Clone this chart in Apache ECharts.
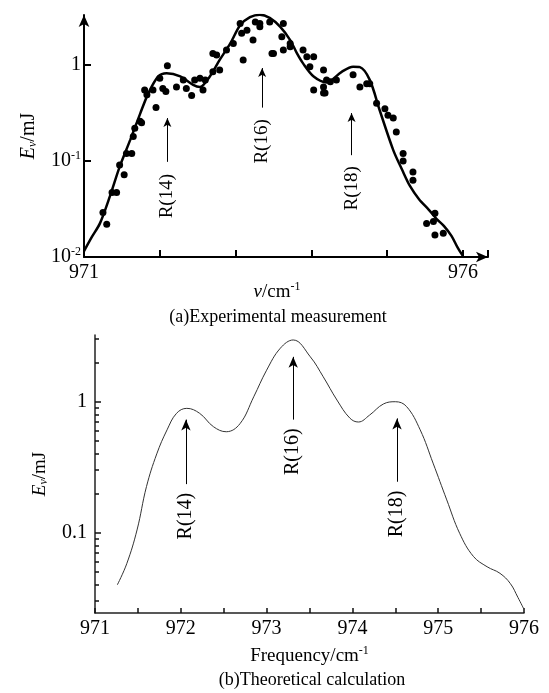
<!DOCTYPE html>
<html><head><meta charset="utf-8">
<script src="https://cdn.jsdelivr.net/npm/echarts@6/dist/echarts.min.js"></script>
<style>html,body{margin:0;padding:0;background:#fff}#c{width:549px;height:693px}</style>
</head><body><div id="c"></div>
<script>
// ---------- data ----------
// (a) experimental: fitted curve [frequency, energy mJ]
const expCurve = [
 [971.00,0.0115],[971.10,0.016],[971.21,0.0224],[971.34,0.0425],[971.47,0.087],[971.61,0.166],
 [971.74,0.31],[971.85,0.51],[971.98,0.76],[972.09,0.82],[972.27,0.76],[972.44,0.62],[972.53,0.59],
 [972.66,0.76],[972.79,1.13],[972.93,1.68],[973.06,2.6],[973.19,3.15],[973.32,3.35],[973.45,3.1],
 [973.59,2.5],[973.72,1.82],[973.81,1.32],[973.89,1.04],[974.03,0.76],[974.20,0.66],[974.40,0.85],
 [974.55,0.96],[974.64,0.95],[974.77,0.70],[974.90,0.34],[975.08,0.13],[975.20,0.08],[975.30,0.055],
 [975.42,0.04],[975.55,0.031],[975.65,0.025],[975.75,0.021],[975.85,0.0165],[975.93,0.0125],[976.00,0.0102]
];
// (a) experimental: measured points
const expPoints = [
 [971.25,0.029],[971.30,0.022],[971.37,0.047],[971.43,0.047],[971.47,0.091],[971.53,0.072],
 [971.56,0.12],[971.63,0.12],[971.65,0.18],[971.67,0.22],[971.74,0.26],[971.76,0.25],[971.80,0.55],
 [971.83,0.49],[971.91,0.55],[971.95,0.36],[972.00,0.73],[972.04,0.57],[972.10,0.98],[972.08,0.53],
 [972.22,0.59],[972.31,0.70],[972.35,0.57],[972.42,0.48],[972.46,0.70],[972.53,0.73],[972.57,0.55],
 [972.60,0.70],[972.70,0.85],[972.79,0.89],[972.75,1.27],[972.70,1.32],[972.88,1.43],[972.97,1.68],
 [973.06,2.7],[973.08,2.14],[973.10,1.13],[973.15,2.3],[973.23,1.82],[973.26,2.8],[973.32,2.5],
 [973.32,3.9],[973.32,2.7],[973.37,3.6],[973.45,2.8],[973.48,1.32],[973.50,1.32],[973.61,1.97],
 [973.63,2.7],[973.63,1.43],[973.72,1.55],[973.72,1.68],[973.89,1.43],[973.94,1.22],[973.98,0.96],
 [974.03,1.22],[974.03,0.55],[974.16,0.51],[974.16,0.89],[974.16,0.59],[974.18,0.51],[974.20,0.70],
 [974.25,0.67],[974.33,0.70],[974.55,0.79],[974.64,0.59],[974.73,0.64],[974.77,0.64],[974.86,0.40],
 [974.97,0.35],[975.01,0.30],[975.08,0.28],[975.12,0.20],[975.21,0.12],[975.21,0.10],[975.34,0.077],
 [975.34,0.063],[975.52,0.0224],[975.61,0.0234],[975.63,0.017],[975.74,0.0177],[975.63,0.0285]
];
// (b) theoretical curve
const theoCurve = [
 [971.26,0.040],[971.37,0.058],[971.49,0.105],[971.60,0.225],[971.72,0.40],[971.84,0.61],
 [971.95,0.815],[972.07,0.89],[972.22,0.815],[972.38,0.645],[972.53,0.59],[972.69,0.68],
 [972.85,1.09],[973.00,1.74],[973.16,2.56],[973.31,2.96],[973.51,2.2],[973.66,1.55],[973.82,1.03],
 [973.97,0.75],[974.07,0.70],[974.20,0.79],[974.36,0.96],[974.50,1.0],[974.63,0.92],[974.79,0.61],
 [974.94,0.34],[975.10,0.178],[975.25,0.099],[975.41,0.066],[975.57,0.055],[975.72,0.049],
 [975.84,0.041],[975.93,0.032],[976.00,0.026]
];
// annotations: [frequency, text position, label], arrows [frequency, tail, tip]
const expLabels = [[972.10,0.043,'R(14)'],[973.35,0.16,'R(16)'],[974.53,0.052,'R(18)']];
const expArrows = [[972.10,0.098,0.28],[973.35,0.36,0.93],[974.53,0.115,0.316]];
const theoLabels = [[972.06,0.134,'R(14)'],[973.31,0.415,'R(16)'],[974.52,0.139,'R(18)']];
const theoArrows = [[972.06,0.235,0.73],[973.31,0.73,2.2],[974.52,0.245,0.746]];
// ticks
const expXLabels = [971,976];
const expYLabels = [0.01,0.1,1];
const expYTicks = [0.1,1];
const theoXTicks = [971,971.5,972,972.5,973,973.5,974,974.5,975,975.5,976];
const theoXLabels = [971,972,973,974,975,976];
const theoYMajor = [0.1,1];
const theoYMinor = [0.03,0.04,0.05,0.06,0.07,0.08,0.09,0.2,0.3,0.4,0.5,0.6,0.7,0.8,0.9,2,3];

// ---------- chart ----------
const F = 'Liberation Serif, Times New Roman, serif';
const chart = echarts.init(document.getElementById('c'));
const arrowLines = (arr, sz) => ({
  silent: true, animation: false, symbol: ['none','arrow'], symbolSize: sz,
  lineStyle: {color: '#000', width: 1, type: 'solid'}, label: {show: false},
  data: arr.map(a => [{coord: [a[0], a[1]]}, {coord: [a[0], a[2]]}])
});
const textSeries = (arr, xi, yi, fs) => ({
  type: 'scatter', xAxisIndex: xi, yAxisIndex: yi, symbolSize: 1, silent: true,
  itemStyle: {opacity: 0},
  data: arr,
  label: {show: true, position: 'inside', rotate: 90, formatter: p => p.data[2],
    color: '#000', fontFamily: F, fontSize: fs, opacity: 1}
});
const supS = {fontFamily: F, fontSize: 12, fontWeight: 'normal', color: '#000', verticalAlign: 'top', lineHeight: 22, padding: [0,0,8,0]};
const supRich = {
  b: {fontFamily: F, fontSize: 20, fontWeight: 'normal', color: '#000', lineHeight: 22},
  s: supS
};
chart.setOption({
  animation: false,
  title: [
    {text: '{i|ν}{b|/cm}{s|-1}', left: 272, top: 276, textAlign: 'center',
      textStyle: {fontWeight: 'normal', rich: {
        i: {fontFamily: F, fontStyle: 'italic', fontWeight: 'normal', fontSize: 19, color: '#000', lineHeight: 22},
        b: {fontFamily: F, fontSize: 19, fontWeight: 'normal', color:'#000', lineHeight: 22}, s: supS}}},
    {text: '(a)Experimental measurement', left: 273, top: 303, textAlign: 'center',
      textStyle: {fontFamily: F, fontSize: 18, fontWeight: 'normal', color: '#000'}},
    {text: '(b)Theoretical calculation', left: 307, top: 666, textAlign: 'center',
      textStyle: {fontFamily: F, fontSize: 18, fontWeight: 'normal', color: '#000'}}
  ],
  grid: [
    {left: 84, top: 15, width: 404, height: 242},
    {left: 95, top: 335, width: 429, height: 278}
  ],
  xAxis: [
    {type: 'value', gridIndex: 0, min: 971, max: 976.33, interval: 1,
      axisLine: {lineStyle: {color: '#000', width: 2}, symbol: ['none','arrow'], symbolSize: [8,12]},
      axisTick: {show: true, inside: true, length: 7, lineStyle: {width: 2, color: '#000'}},
      axisLabel: {customValues: expXLabels, color: '#000', fontFamily: F, fontSize: 20, margin: 6},
      splitLine: {show: false}},
    {type: 'value', gridIndex: 1, min: 971, max: 976,
      name: '{b|Frequency/cm}{s|-1}', nameLocation: 'middle', nameGap: 32,
      nameTextStyle: {rich: {b: {fontFamily: F, fontSize: 19, color: '#000', lineHeight: 22}, s: supS}},
      axisLine: {lineStyle: {color: '#222', width: 1.5}},
      axisTick: {show: true, inside: true, length: 5, lineStyle: {width: 1.5, color: '#111'}, customValues: theoXTicks},
      axisLabel: {customValues: theoXLabels, color: '#000', fontFamily: F, fontSize: 20, margin: 6},
      splitLine: {show: false}}
  ],
  yAxis: [
    {type: 'log', gridIndex: 0, min: 0.01, max: 3.32, logBase: 10,
      name: '{i|E}{sub|v}{b|/mJ}', nameLocation: 'middle', nameRotate: 90, nameGap: 45,
      nameTextStyle: {rich: {i: {fontFamily: F, fontStyle: 'italic', fontSize: 20, color:'#000'},
        sub: {fontFamily: F, fontStyle: 'italic', fontSize: 12, color: '#000', verticalAlign: 'bottom', padding: [8,0,0,0]},
        b: {fontFamily: F, fontSize: 20, color: '#000'}}},
      axisLine: {show: true, lineStyle: {color: '#000', width: 2}, symbol: ['none','arrow'], symbolSize: [8,12]},
      axisTick: {show: true, inside: true, length: 7, lineStyle: {width: 2, color: '#000'}, customValues: expYTicks},
      axisLabel: {customValues: expYLabels, margin: 3,
        formatter: v => { const e = Math.round(Math.log10(v)); return e === 0 ? '{b|1}' : '{b|10}{s|' + e + '}'; },
        rich: supRich},
      splitLine: {show: false}},
    {type: 'log', gridIndex: 1, min: 0.0244, max: 3.23, logBase: 10,
      name: '{i|E}{sub|v}{b|/mJ}', nameLocation: 'middle', nameRotate: 90, nameGap: 45,
      nameTextStyle: {rich: {i: {fontFamily: F, fontStyle: 'italic', fontSize: 19, color:'#000'},
        sub: {fontFamily: F, fontStyle: 'italic', fontSize: 12, color: '#000', verticalAlign: 'bottom', padding: [8,0,0,0]},
        b: {fontFamily: F, fontSize: 19, color: '#000'}}},
      axisLine: {show: true, lineStyle: {color: '#222', width: 1.5}},
      axisTick: {show: true, inside: true, length: 6, lineStyle: {width: 1.5, color: '#111'}, customValues: theoYMajor},
      axisLabel: {customValues: theoYMajor, margin: 8, color: '#000', fontFamily: F, fontSize: 20,
        formatter: v => String(v)},
      splitLine: {show: false}},
    {type: 'log', gridIndex: 1, min: 0.0244, max: 3.23, logBase: 10, position: 'left',
      axisLine: {show: false},
      axisTick: {show: true, inside: true, length: 4, lineStyle: {width: 1.5, color: '#111'}, customValues: theoYMinor},
      axisLabel: {show: false}, splitLine: {show: false}}
  ],
  series: [
    {type: 'line', xAxisIndex: 0, yAxisIndex: 0, data: expCurve, smooth: 0.3, symbol: 'none',
      lineStyle: {color: '#000', width: 2.5}, silent: true},
    {type: 'scatter', xAxisIndex: 0, yAxisIndex: 0, data: expPoints, symbolSize: 7,
      itemStyle: {color: '#000', opacity: 1}, silent: true, markLine: arrowLines(expArrows, [6,9])},
    textSeries(expLabels, 0, 0, 19),
    {type: 'line', xAxisIndex: 1, yAxisIndex: 1, data: theoCurve, smooth: 0.4, symbol: 'none',
      lineStyle: {color: '#333', width: 1}, silent: true, markLine: arrowLines(theoArrows, [7,11])},
    textSeries(theoLabels, 1, 1, 20)
  ]
});
</script></body></html>
